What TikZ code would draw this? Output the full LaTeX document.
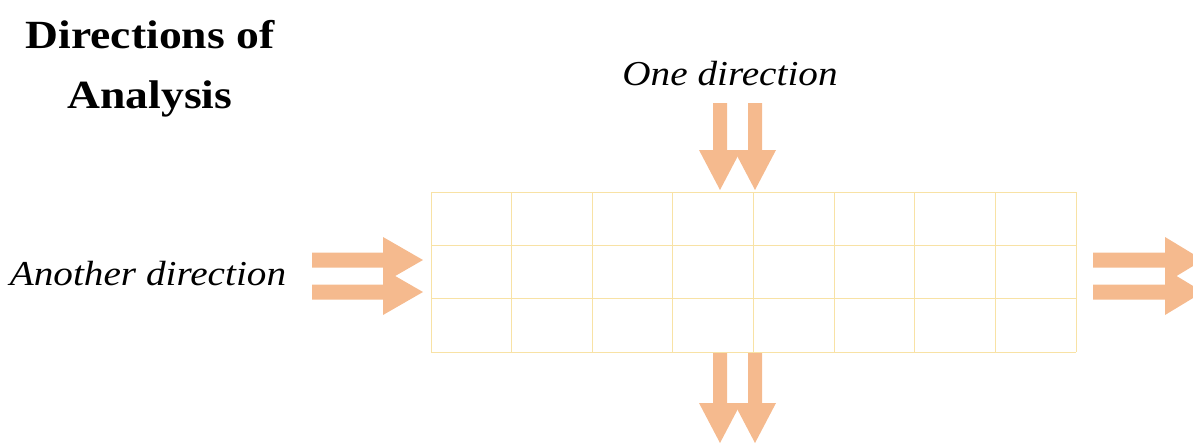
\documentclass[tikz,border=0pt]{standalone}
\usepackage{fontspec}
\usepackage{graphicx}
\setmainfont{Liberation Serif}
\usetikzlibrary{positioning}
\definecolor{arrowpeach}{RGB}{245,186,142}
\definecolor{gridyellow}{RGB}{248,226,165}
\newcommand{\wide}[1]{\scalebox{1.12}[1]{#1}}

\begin{document}
\begin{tikzpicture}[
  x=1pt, y=-1pt,
  gridline/.style={draw=gridyellow, line width=1pt},
  blockarrow/.style={fill=arrowpeach},
  label/.style={anchor=base, inner sep=0pt, font=\fontsize{35}{42}\selectfont\itshape},
  heading/.style={anchor=base, inner sep=0pt, font=\fontsize{40}{48}\selectfont\bfseries}
]
\useasboundingbox (0,0) rectangle (1193,447);

% titles and labels
\node[heading] (title) at (150,48) {\scalebox{1.14}[1]{Directions of}};
\node[heading] (title2) at (150,108) {\scalebox{1.14}[1]{Analysis}};
\node[label] (onedir) at (730,85) {\wide{One direction}};
\node[label] (anotherdir) at (148,285) {\wide{Another direction}};

% table
\foreach \i in {0,...,8}
  \draw[gridline] (431+\i*80.625,192) -- (431+\i*80.625,352);
\foreach \y in {192,245,298,352}
  \draw[gridline] (431,\y) -- (1076,\y);

% vertical arrows
\foreach \cx in {720,755} {
  \fill[blockarrow] (\cx-7,103) -- (\cx+7,103) -- (\cx+7,150) -- (\cx+21,150)
    -- (\cx,190) -- (\cx-21,150) -- (\cx-7,150) -- cycle;
  \fill[blockarrow] (\cx-7,353) -- (\cx+7,353) -- (\cx+7,403) -- (\cx+21,403)
    -- (\cx,443) -- (\cx-21,403) -- (\cx-7,403) -- cycle;
}

% horizontal arrows
\foreach \cy in {260,292} {
  \fill[blockarrow] (312,\cy-7.5) -- (383,\cy-7.5) -- (383,\cy-23) -- (423,\cy)
    -- (383,\cy+23) -- (383,\cy+7.5) -- (312,\cy+7.5) -- cycle;
  \fill[blockarrow] (1093,\cy-7.5) -- (1165,\cy-7.5) -- (1165,\cy-23) -- (1203,\cy)
    -- (1165,\cy+23) -- (1165,\cy+7.5) -- (1093,\cy+7.5) -- cycle;
}
\end{tikzpicture}
\end{document}
